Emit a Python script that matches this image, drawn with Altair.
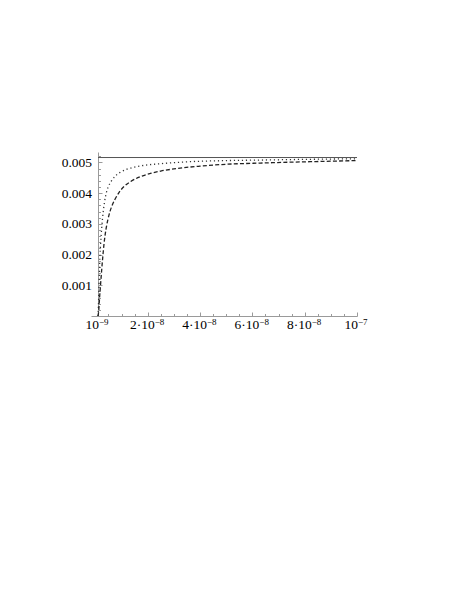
import altair as alt
import pandas as pd

# ---- data (x in units of 1e-9, y in units of 1e-3) ----
x_dotted = [1.0, 1.15, 1.3, 1.5, 1.75, 2.0, 2.4, 3.0, 3.5, 4.2, 5.0, 6.0, 7.5, 9.5,
            12, 15, 20, 25, 35, 50, 65, 80, 100]
y_dotted = [0.0, 0.3, 0.75, 1.35, 1.95, 2.35, 2.85, 3.40, 3.72, 4.02, 4.22, 4.38, 4.55, 4.68,
            4.78, 4.85, 4.92, 4.96, 5.02, 5.06, 5.08, 5.10, 5.12]

x_dashed = [1.0, 1.3, 1.6, 2.0, 2.4, 2.8, 3.3, 4.0, 4.8, 5.5, 6.5, 7.5, 9.0, 11,
            13.5, 17, 21, 25, 30, 40, 50, 63, 80, 100]
y_dashed = [0.0, 0.2, 0.6, 1.05, 1.5, 1.9, 2.35, 2.80, 3.15, 3.38, 3.62, 3.80, 4.02, 4.22,
            4.38, 4.53, 4.64, 4.72, 4.79, 4.88, 4.94, 4.98, 5.02, 5.06]

x_solid = [1.0, 100]
y_solid = [5.16, 5.16]

# axis ticks and labels
x_major = [1, 20, 40, 60, 80, 100]
x_label_base = ["10", "2·10", "4·10", "6·10", "8·10", "10"]
x_label_exp = ["−9", "−8", "−8", "−8", "−8", "−7"]
x_minor = [5, 10, 15, 25, 30, 35, 45, 50, 55, 65, 70, 75, 85, 90, 95]
y_major = [1, 2, 3, 4, 5]
y_minor = [0.2, 0.4, 0.6, 0.8, 1.2, 1.4, 1.6, 1.8, 2.2, 2.4, 2.6, 2.8,
           3.2, 3.4, 3.6, 3.8, 4.2, 4.4, 4.6, 4.8, 5.2]

XS, YS = 1e-9, 1e-3
X_DOMAIN = [-1.68 * XS, x_major[-1] * XS]
Y_DOMAIN = [0, 5.34 * YS]

def df(xs, ys):
    return pd.DataFrame({"x": [v * XS for v in xs], "y": [v * YS for v in ys]})

d_solid = df(x_solid, y_solid)
d_dotted = df(x_dotted, y_dotted)
d_dashed = df(x_dashed, y_dashed)

def label_expr(texts):
    return " : ".join(
        f"round(datum.value*1e9)=={v} ? '{t}'" for v, t in zip(x_major, texts)
    ) + " : ''"

FONT = "Liberation Serif, Times New Roman, serif"
AX = "#9a9a9a"
YOFF = -7
# labels "10^n" sit with their join on the tick, "k·10^n" are shifted to stay centred
offset_rule = {"condition": {"test": "round(datum.value*1e9)==1 || round(datum.value*1e9)==100",
                             "value": 0.5}, "value": 6.5}

def xenc(axis):
    return alt.X("x:Q", scale=alt.Scale(domain=X_DOMAIN, nice=False, zero=False), axis=axis)

def yenc(axis):
    return alt.Y("y:Q", scale=alt.Scale(domain=Y_DOMAIN, nice=False), axis=axis)

xvals = [v * XS for v in x_major]

main_x = alt.Axis(orient="bottom", title=None, values=xvals,
                  labelExpr=label_expr(x_label_base), ticks=False, grid=False, domainColor=AX,
                  labelFont=FONT, labelFontSize=13.5, labelColor="black", labelPadding=12.5,
                  labelBaseline="alphabetic", labelAlign="right", labelOffset=offset_rule,
                  labelFlush=False, labelOverlap=False)
exp_x = alt.Axis(orient="bottom", title=None, values=xvals,
                 labelExpr=label_expr(x_label_exp), ticks=False, grid=False, domain=False,
                 labelFont=FONT, labelFontSize=9, labelColor="black", labelPadding=8.5,
                 labelBaseline="alphabetic", labelAlign="left", labelOffset=offset_rule,
                 labelFlush=False, labelOverlap=False)
main_y = alt.Axis(orient="left", title=None, values=[v * YS for v in y_major], format=".3f",
                  ticks=False, grid=False, domainColor=AX, offset=YOFF,
                  labelFont=FONT, labelFontSize=13.5, labelColor="black", labelPadding=6.5)

maj_x = alt.Axis(orient="bottom", title=None, values=xvals, labels=False,
                 domain=False, grid=False, tickColor=AX, tickSize=4, offset=-4)
maj_y = alt.Axis(orient="left", title=None, values=[v * YS for v in y_major], labels=False,
                 domain=False, grid=False, tickColor=AX, tickSize=4, offset=YOFF - 4)
min_x = alt.Axis(orient="bottom", title=None, values=[v * XS for v in x_minor], labels=False,
                 domain=False, grid=False, tickColor=AX, tickSize=2.5, offset=-2.5)
min_y = alt.Axis(orient="left", title=None, values=[v * YS for v in y_minor], labels=False,
                 domain=False, grid=False, tickColor=AX, tickSize=2.5, offset=YOFF - 2.5)

solid = alt.Chart(d_solid).mark_line(color="#555555", strokeWidth=1).encode(
    x=xenc(main_x), y=yenc(main_y))
dotted = alt.Chart(d_dotted).mark_line(color="#333333", strokeWidth=1.3, strokeDash=[1.2, 2.8],
                                       interpolate="monotone").encode(
    x=xenc(None), y=yenc(None))
dashed = alt.Chart(d_dashed).mark_line(color="#222222", strokeWidth=1.3, strokeDash=[4, 2.2],
                                       interpolate="monotone").encode(
    x=xenc(None), y=yenc(None))
ghost_exp = alt.Chart(d_solid).mark_line(opacity=0).encode(x=xenc(exp_x), y=yenc(None))
ghost_major = alt.Chart(d_solid).mark_line(opacity=0).encode(x=xenc(maj_x), y=yenc(maj_y))
ghost_minor = alt.Chart(d_solid).mark_line(opacity=0).encode(x=xenc(min_x), y=yenc(min_y))

chart = alt.layer(solid, dotted, dashed, ghost_exp, ghost_major, ghost_minor).resolve_scale(
    x="shared", y="shared").resolve_axis(x="independent", y="independent").properties(
    width=266, height=164,
    autosize=alt.AutoSizeParams(type="none"),
    padding={"left": 83, "top": 144, "right": 40, "bottom": 80},
    background="white",
).configure_view(stroke=None)

chart.save("out.html", embed_options={"renderer": "svg", "actions": False})
